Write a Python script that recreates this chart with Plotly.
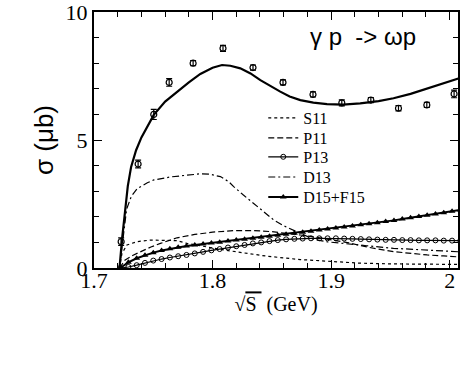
import plotly.graph_objects as go

# ---- data ----
data_x = [1.7229, 1.7372, 1.7504, 1.7634, 1.7836, 1.8088, 1.8341, 1.8594, 1.8847, 1.909, 1.9335, 1.9568, 1.9807, 2.0037]
data_y = [1.03, 4.06, 6.00, 7.25, 8.00, 8.58, 7.83, 7.25, 6.78, 6.45, 6.56, 6.24, 6.37, 6.80]
data_err = [0.15, 0.15, 0.2, 0.15, 0.1, 0.12, 0.1, 0.1, 0.1, 0.12, 0.1, 0.1, 0.1, 0.15]

total_x = [1.7215, 1.7225, 1.7238, 1.7257, 1.7285, 1.7313, 1.7355, 1.740, 1.745, 1.7504, 1.760, 1.7701, 1.780,
           1.7897, 1.800, 1.808, 1.815, 1.8234, 1.832, 1.8403, 1.8487, 1.8571, 1.865, 1.874, 1.885, 1.8965,
           1.910, 1.9245, 1.94, 1.9526, 1.967, 1.9807, 1.995, 2.009]
total_y = [0, 0.6, 1.2, 2.0, 3.2, 3.95, 4.6, 5.1, 5.55, 5.98, 6.5, 6.89, 7.25,
           7.58, 7.82, 7.93, 7.9, 7.8, 7.6, 7.34, 7.1, 6.89, 6.7, 6.56, 6.46, 6.4,
           6.38, 6.43, 6.52, 6.63, 6.8, 7.0, 7.22, 7.43]

s11_x = [1.7215, 1.7225, 1.7236, 1.7278, 1.7364, 1.7475, 1.7587, 1.770, 1.7785, 1.787, 1.798, 1.810, 1.826,
         1.846, 1.874, 1.902, 1.924, 1.950, 1.980, 2.009]
s11_y = [0, 0.35, 0.57, 0.9, 1.03, 1.09, 1.09, 1.07, 0.96, 0.9, 0.8, 0.7, 0.6,
         0.46, 0.33, 0.24, 0.19, 0.16, 0.15, 0.14]

p11_x = [1.7215, 1.726, 1.733, 1.740, 1.748, 1.756, 1.770, 1.785, 1.800, 1.818, 1.835, 1.850, 1.865, 1.874,
         1.888, 1.902, 1.915, 1.9245, 1.938, 1.9526, 1.967, 1.981, 1.995, 2.009]
p11_y = [0, 0.3, 0.5, 0.66, 0.82, 0.96, 1.18, 1.31, 1.4, 1.46, 1.46, 1.42, 1.35, 1.29,
         1.2, 1.1, 0.98, 0.88, 0.75, 0.64, 0.57, 0.51, 0.47, 0.43]

d13_x = [1.7215, 1.7235, 1.725, 1.7275, 1.7315, 1.7364, 1.745, 1.7504, 1.765, 1.780, 1.790, 1.797, 1.8066,
         1.8137, 1.8178, 1.826, 1.8346, 1.843, 1.8515, 1.860, 1.8683, 1.8852, 1.897, 1.9105, 1.930, 1.9526,
         1.980, 2.009]
d13_y = [0, 0.8, 1.35, 2.3, 2.8, 3.1, 3.33, 3.44, 3.56, 3.64, 3.68, 3.67, 3.57,
         3.37, 3.18, 2.85, 2.53, 2.2, 1.88, 1.65, 1.48, 1.12, 1.02, 0.95, 0.87, 0.77,
         0.7, 0.63]

mk_x = [1.722, 1.729, 1.736, 1.743, 1.750, 1.757, 1.764, 1.771, 1.778, 1.785, 1.792, 1.799, 1.806, 1.813,
        1.820, 1.827, 1.834, 1.841, 1.848, 1.855, 1.862, 1.869, 1.876, 1.883, 1.890, 1.897, 1.904, 1.911,
        1.918, 1.925, 1.932, 1.939, 1.946, 1.953, 1.960, 1.967, 1.974, 1.981, 1.988, 1.995, 2.002, 2.009]
p13_y = [0.0, 0.04, 0.11, 0.2, 0.29, 0.35, 0.41, 0.46, 0.51, 0.57, 0.63, 0.69, 0.74, 0.8,
         0.85, 0.9, 0.96, 1.0, 1.05, 1.09, 1.12, 1.14, 1.15, 1.16, 1.16, 1.16, 1.16, 1.15,
         1.14, 1.13, 1.12, 1.11, 1.1, 1.1, 1.09, 1.09, 1.08, 1.08, 1.08, 1.07, 1.07, 1.07]
d15_y = [0.0, 0.22, 0.38, 0.5, 0.6, 0.68, 0.75, 0.81, 0.86, 0.9, 0.94, 0.98, 1.01, 1.05,
         1.09, 1.12, 1.16, 1.2, 1.24, 1.28, 1.32, 1.36, 1.4, 1.44, 1.48, 1.52, 1.56, 1.6,
         1.64, 1.69, 1.73, 1.77, 1.82, 1.86, 1.91, 1.96, 2.01, 2.06, 2.11, 2.16, 2.22, 2.27]

x_ticks = [1.7, 1.8, 1.9, 2.0]
x_ticklabels = ["1.7", "1.8", "1.9", "2"]
y_ticks = [0, 5, 10]
y_ticklabels = ["0", "5", "10"]

SERIF = "Liberation Serif"
SANS = "Liberation Sans"

fig = go.Figure()

fig.add_trace(go.Scatter(x=data_x, y=data_y, mode="markers", showlegend=False,
                         marker=dict(symbol="circle-open", size=6, color="black", line=dict(width=1.2)),
                         error_y=dict(type="data", array=data_err, color="black", thickness=1.2, width=3)))

fig.add_trace(go.Scatter(x=s11_x, y=s11_y, mode="lines", name="S11", legend="legend",
                         line=dict(color="black", width=1.2, dash="dot")))
fig.add_trace(go.Scatter(x=p11_x, y=p11_y, mode="lines", name="P11", legend="legend2",
                         line=dict(color="black", width=1.2, dash="6px,3px")))
fig.add_trace(go.Scatter(x=mk_x, y=p13_y, mode="lines+markers", name="P13", legend="legend3",
                         line=dict(color="black", width=1.2),
                         marker=dict(symbol="circle-open", size=5, color="black", line=dict(width=1))))
fig.add_trace(go.Scatter(x=d13_x, y=d13_y, mode="lines", name="D13", legend="legend4",
                         line=dict(color="black", width=1.2, dash="7px,3px,2px,3px")))
fig.add_trace(go.Scatter(x=mk_x, y=d15_y, mode="lines+markers", name="D15+F15", legend="legend5",
                         line=dict(color="black", width=2),
                         marker=dict(symbol="triangle-up", size=6, color="black")))
fig.add_trace(go.Scatter(x=total_x, y=total_y, mode="lines", showlegend=False,
                         line=dict(color="black", width=2.2)))

tick_font = dict(family=SERIF, size=22, color="black")


def leg(y):
    return dict(x=0.465, y=y, xanchor="left", yanchor="middle",
                bgcolor="rgba(0,0,0,0)", borderwidth=0,
                font=dict(family=SERIF, size=16, color="black"), itemwidth=30)


fig.update_layout(
    width=463, height=370, template="none",
    plot_bgcolor="white", paper_bgcolor="white",
    font=dict(family=SERIF, size=16, color="black"),
    margin=dict(l=94, r=5, t=12, b=102, autoexpand=False),
    xaxis=dict(range=[1.7, 2.007], tickmode="array", tickvals=x_ticks, ticktext=x_ticklabels,
               tickfont=tick_font, automargin=False, ticklabelstandoff=-8, ticklabeloverflow="allow",
               showline=True, linecolor="black", linewidth=2, mirror="allticks",
               ticks="inside", ticklen=8, tickwidth=1.2, tickcolor="black",
               showgrid=False, zeroline=False,
               minor=dict(dtick=0.02, tick0=1.7, ticks="inside", ticklen=5, tickwidth=1,
                          tickcolor="black", showgrid=False),
               title=dict(text="√<span style='text-decoration:overline'>S </span> (GeV)",
                          font=dict(family=SERIF, size=20, color="black"), standoff=0)),
    yaxis=dict(range=[0, 10], tickmode="array", tickvals=y_ticks, ticktext=y_ticklabels,
               tickfont=tick_font, automargin=False, ticklabeloverflow="allow",
               showline=True, linecolor="black", linewidth=2, mirror="allticks",
               ticks="inside", ticklen=8, tickwidth=1.2, tickcolor="black",
               showgrid=False, zeroline=False,
               minor=dict(dtick=1, tick0=0, ticks="inside", ticklen=5, tickwidth=1,
                          tickcolor="black", showgrid=False),
               title=dict(text="σ (μb)", font=dict(family=SANS, size=26, color="black"), standoff=4)),
    legend=leg(0.586), legend2=leg(0.508), legend3=leg(0.434), legend4=leg(0.355), legend5=leg(0.277),
)

fig.add_annotation(x=0.89, y=0.905, xref="paper", yref="paper", xanchor="right", yanchor="middle",
                   text="γ p  -> ωp", showarrow=False,
                   font=dict(family=SANS, size=24, color="black"))

# remove the page's default body margin so the figure sits at the window's top-left corner
fig.write_html("out.html", config={"displayModeBar": False},
               post_script="document.body.style.margin='0';")
